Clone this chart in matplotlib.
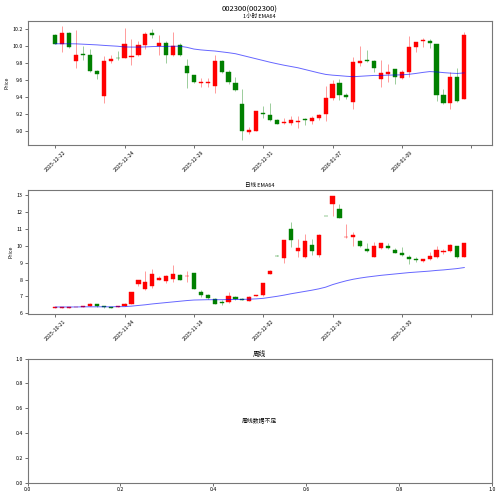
import matplotlib
matplotlib.use("Agg")
import matplotlib.pyplot as plt
from matplotlib.ticker import MultipleLocator
import numpy as np

plt.rcParams['font.family'] = ['Noto Sans CJK SC', 'DejaVu Sans']
plt.rcParams['axes.unicode_minus'] = False

# 1小时 K线 (60根)
h_open = [10.13, 10.03, 10.15, 9.82, 9.91, 9.89, 9.71, 9.41, 9.82, 9.865,
          9.86, 9.87, 9.89, 10.01, 10.15, 10.00, 10.04, 9.89, 10.01, 9.76,
          9.66, 9.57, 9.57, 9.53, 9.82, 9.70, 9.57, 9.32, 8.99, 9.00,
          9.215, 9.19, 9.13, 9.095, 9.10, 9.105, 9.14, 9.12, 9.155, 9.20,
          9.39, 9.57, 9.43, 9.34, 9.80, 9.835, 9.83, 9.61, 9.67, 9.725,
          9.625, 9.69, 9.99, 10.055, 10.065, 10.03, 9.43, 9.33, 9.64, 9.38]
h_close = [10.03, 10.15, 9.99, 9.90, 9.90, 9.71, 9.67, 9.83, 9.85, 9.86,
           10.03, 9.88, 10.01, 10.14, 10.13, 10.04, 9.89, 10.00, 9.89, 9.68,
           9.58, 9.58, 9.58, 9.82, 9.70, 9.58, 9.48, 9.00, 9.01, 9.235,
           9.20, 9.13, 9.09, 9.11, 9.135, 9.12, 9.13, 9.155, 9.19, 9.39,
           9.55, 9.43, 9.40, 9.81, 9.82, 9.82, 9.745, 9.68, 9.70, 9.64,
           9.69, 9.99, 10.045, 10.07, 10.035, 9.43, 9.33, 9.64, 9.36, 10.13]
h_high = [10.14, 10.23, 10.16, 10.19, 10.00, 9.96, 9.72, 9.88, 9.89, 9.94,
          10.21, 10.08, 10.06, 10.16, 10.20, 10.13, 10.06, 10.16, 10.04, 9.85,
          9.66, 9.62, 9.62, 9.90, 9.84, 9.72, 9.64, 9.50, 9.05, 9.24,
          9.30, 9.33, 9.14, 9.16, 9.18, 9.18, 9.15, 9.18, 9.20, 9.53,
          9.60, 9.61, 9.45, 9.87, 10.00, 9.95, 9.84, 9.84, 9.79, 9.73,
          9.72, 10.12, 10.05, 10.10, 10.08, 10.03, 9.50, 9.70, 9.74, 10.16]
h_low = [10.02, 9.93, 9.98, 9.74, 9.84, 9.70, 9.61, 9.33, 9.80, 9.84,
         9.86, 9.78, 9.88, 9.96, 10.10, 9.90, 9.80, 9.88, 9.88, 9.51,
         9.57, 9.52, 9.52, 9.45, 9.68, 9.55, 9.47, 8.90, 8.97, 9.00,
         9.15, 9.12, 9.08, 9.09, 9.07, 9.04, 9.07, 9.09, 9.13, 9.12,
         9.37, 9.37, 9.38, 9.26, 9.76, 9.81, 9.69, 9.52, 9.58, 9.56,
         9.61, 9.64, 9.93, 9.99, 9.98, 9.36, 9.32, 9.26, 9.34, 9.38]
h_ema = [10.027, 10.027, 10.027, 10.026, 10.022, 10.018, 10.014, 10.008, 10.003, 9.998,
         9.990, 9.988, 9.988, 9.990, 9.994, 9.996, 9.996, 9.998, 9.998, 9.985,
         9.965, 9.955, 9.948, 9.942, 9.932, 9.922, 9.910, 9.890, 9.870, 9.850,
         9.830, 9.810, 9.792, 9.775, 9.760, 9.745, 9.725, 9.705, 9.685, 9.667,
         9.658, 9.652, 9.645, 9.640, 9.645, 9.650, 9.655, 9.655, 9.658, 9.660,
         9.662, 9.668, 9.678, 9.690, 9.700, 9.696, 9.688, 9.682, 9.678, 9.685]
h_ticklabels = ['2025-12-22', '2025-12-24', '2025-12-29', '2025-12-31',
                '2026-01-07', '2026-01-09', '']

# 日线 K线 (60根)
d_open = [6.31, 6.32, 6.32, 6.37, 6.37, 6.43, 6.53, 6.42, 6.36, 6.36,
          6.44, 6.57, 7.75, 7.47, 7.62, 8.00, 7.92, 8.03, 8.29, 8.19,
          8.39, 7.27, 7.11, 6.88, 6.70, 6.68, 6.94, 6.83, 6.75, 7.02,
          7.06, 8.35, 9.42, 9.28, 10.99, 9.68, 9.36, 10.05, 9.48, 11.78,
          12.45, 12.16, 10.49, 10.50, 10.30, 9.81, 9.36, 9.85, 9.99, 9.75,
          9.56, 9.32, 9.21, 9.07, 9.19, 9.32, 9.60, 9.66, 10.00, 9.36]
d_close = [6.36, 6.36, 6.36, 6.38, 6.42, 6.58, 6.42, 6.35, 6.34, 6.44,
           6.57, 7.27, 7.95, 7.86, 8.31, 8.08, 8.21, 8.31, 8.00, 8.23,
           7.47, 7.08, 6.92, 6.57, 6.64, 7.02, 6.87, 6.81, 6.98, 7.07,
           7.80, 8.52, 9.40, 10.34, 10.34, 9.87, 10.30, 9.68, 10.66, 11.76,
           12.94, 11.63, 10.51, 10.63, 9.97, 9.66, 10.00, 10.14, 9.87, 9.56,
           9.44, 9.19, 9.13, 9.19, 9.38, 9.75, 9.71, 10.05, 9.32, 10.15]
d_high = [6.38, 6.38, 6.37, 6.39, 6.45, 6.60, 6.54, 6.44, 6.37, 6.46,
          6.62, 7.27, 7.98, 8.50, 8.65, 8.19, 8.25, 8.87, 8.31, 8.50,
          8.40, 7.41, 7.17, 6.90, 6.78, 7.27, 7.01, 6.90, 7.02, 7.10,
          7.81, 8.56, 9.43, 10.36, 11.38, 10.40, 10.70, 10.40, 10.68, 11.78,
          12.96, 12.45, 11.28, 10.81, 10.35, 10.16, 10.20, 10.18, 10.15, 9.87,
          9.91, 9.48, 9.32, 9.23, 9.62, 9.97, 9.81, 10.11, 10.00, 10.16]
d_low = [6.30, 6.31, 6.31, 6.36, 6.36, 6.42, 6.40, 6.32, 6.31, 6.35,
         6.43, 6.57, 7.60, 7.38, 7.52, 7.96, 7.82, 7.86, 7.96, 7.86,
         7.43, 6.98, 6.86, 6.56, 6.47, 6.62, 6.82, 6.78, 6.74, 7.00,
         7.04, 8.32, 9.39, 8.97, 9.90, 9.36, 9.28, 9.48, 9.35, 11.75,
         11.77, 11.63, 10.48, 10.00, 9.95, 9.63, 9.34, 9.82, 9.81, 9.54,
         9.42, 8.93, 9.03, 9.03, 9.13, 9.28, 9.52, 9.62, 9.26, 9.34]
d_ema = [6.38, 6.38, 6.38, 6.38, 6.39, 6.39, 6.39, 6.39, 6.39, 6.40,
         6.40, 6.43, 6.47, 6.51, 6.56, 6.60, 6.64, 6.68, 6.72, 6.76,
         6.79, 6.80, 6.81, 6.81, 6.81, 6.82, 6.82, 6.83, 6.84, 6.86,
         6.89, 6.95, 7.01, 7.08, 7.16, 7.23, 7.30, 7.37, 7.45, 7.55,
         7.70, 7.82, 7.93, 8.02, 8.09, 8.15, 8.20, 8.25, 8.29, 8.33,
         8.37, 8.41, 8.44, 8.47, 8.50, 8.54, 8.57, 8.61, 8.65, 8.71]
d_ticklabels = ['2025-10-21', '2025-11-04', '2025-11-18', '2025-12-02',
                '2025-12-16', '2025-12-30', '']


def draw_candles(ax, o, c, h, l, ema, labels, title):
    o = np.array(o); c = np.array(c); h = np.array(h); l = np.array(l)
    x = np.arange(len(o))
    up = c >= o
    cols = np.where(up, 'red', 'green')
    # 影线
    ax.vlines(x, l, h, colors=cols, linewidth=0.6, alpha=0.45)
    # 实体
    ax.bar(x, np.abs(c - o), bottom=np.minimum(o, c), width=0.6,
           color=cols, edgecolor=cols, linewidth=0.3)
    ax.plot(x, ema, color='blue', linewidth=0.7, alpha=0.6)
    ax.set_xticks(range(0, 61, 10))
    ax.set_xticklabels(labels, rotation=45, fontsize=3.8)
    ax.set_xlim(-4, 63)
    ax.set_ylabel('Price', fontsize=3.8, labelpad=2)
    ax.set_title(title, fontsize=4.0, pad=2)


fig = plt.figure(figsize=(5, 4.96), dpi=100)
fig.suptitle('002300(002300)', fontsize=5.5, y=0.988)

ax1 = fig.add_axes([0.055, 0.707, 0.929, 0.251])
draw_candles(ax1, h_open, h_close, h_high, h_low, h_ema, h_ticklabels, '1小时 EMA64')
ax1.yaxis.set_major_locator(MultipleLocator(0.2))

ax2 = fig.add_axes([0.055, 0.367, 0.929, 0.250])
draw_candles(ax2, d_open, d_close, d_high, d_low, d_ema, d_ticklabels, '日线 EMA64')
ax2.yaxis.set_major_locator(MultipleLocator(1))

ax3 = fig.add_axes([0.055, 0.027, 0.929, 0.250])
ax3.set_title('周线', fontsize=4.8, pad=2)
ax3.text(0.5, 0.5, '周线数据不足', ha='center', va='center', fontsize=4.2,
         transform=ax3.transAxes)

for ax in (ax1, ax2, ax3):
    ax.tick_params(labelsize=3.8, length=2, width=0.4, pad=1.5)
    for s in ax.spines.values():
        s.set_linewidth(0.8)
        s.set_color('#777777')
ax1.tick_params(axis='x', labelsize=3.8)

fig.savefig('out.png', dpi=100)
